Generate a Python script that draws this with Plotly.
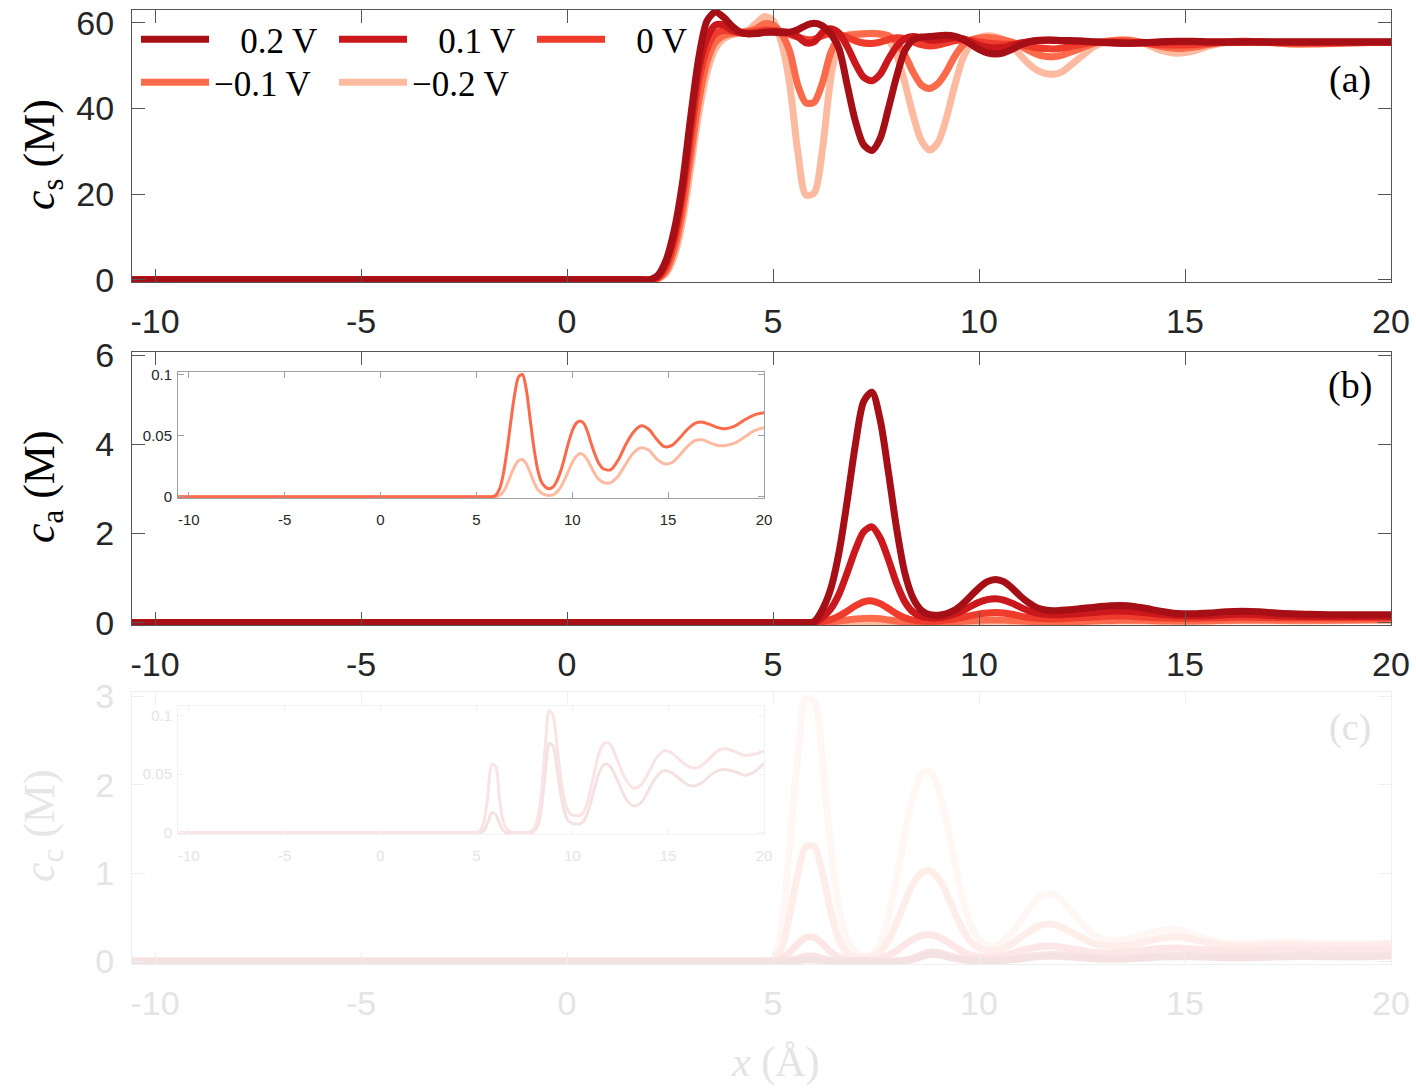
import plotly.graph_objects as go

# ---------------- data ----------------
LABELS = ["\u00a0\u00a0\u00a00.2 V", "\u00a0\u00a0\u00a00.1 V", "\u00a0\u00a0\u00a00 V", "\u22120.1 V", "\u22120.2 V"]
COLORS = ["#a50f15", "#cb181d", "#ef3b2c", "#fb6a4a", "#fcbba1"]
FADED = ["#f4e2e3", "#f9e3e4", "#fde7e6", "#feede9", "#fff7f4"]
X_TICKS = [-10, -5, 0, 5, 10, 15, 20]
X_TICKTEXT = ["-10", "-5", "0", "5", "10", "15", "20"]

# panel (a): solvent concentration c_s (M)
XA = [-10.56, 1.6, 1.8, 2.0, 2.2, 2.4, 2.6, 2.8, 3.0, 3.2, 3.4, 3.6, 3.8, 4.0, 4.2, 4.4, 4.6, 4.8,
      5.0, 5.2, 5.4, 5.6, 5.8, 6.0, 6.2, 6.4, 6.6, 6.8, 7.0, 7.2, 7.4, 7.6, 7.8, 8.0, 8.2, 8.4, 8.6,
      8.8, 9.0, 9.2, 9.4, 9.6, 9.8, 10.0, 10.2, 10.4, 10.6, 10.8, 11.0, 11.2, 11.4, 11.6, 11.8, 12.0,
      12.4, 12.8, 13.2, 13.6, 14.0, 14.4, 14.8, 15.2, 15.6, 16.0, 16.4, 16.8, 17.2, 17.6, 18.0,
      18.5, 19.0, 19.5, 20.0]
CS_P02 = [0, 0, 0, 0, 1.0, 4.5, 11.5, 22.5, 38.0, 52.0, 60.5, 62.5, 61.3, 59.3, 57.9, 57.4, 57.5, 57.8,
          57.8, 57.7, 57.8, 58.4, 59.4, 59.9, 59.3, 57.5, 54.0, 45.5, 37.0, 31.5, 30.2, 33.0, 40.0, 47.5,
          53.5, 56.0, 56.7, 56.8, 57.0, 57.1, 56.9, 56.2, 55.0, 53.8, 53.0, 52.7, 53.0, 53.8, 54.8, 55.5,
          55.9, 56.0, 56.0, 55.9, 55.8, 55.6, 55.4, 55.3, 55.4, 55.6, 55.7, 55.7, 55.6, 55.6, 55.6, 55.6,
          55.6, 55.6, 55.6, 55.6, 55.6, 55.6, 55.6]
CS_P01 = [0, 0, 0, 0, 0.8, 4.0, 10.5, 21.0, 36.0, 49.5, 56.5, 59.5, 59.5, 58.3, 57.7, 57.5, 57.6, 57.8,
          58.0, 58.0, 57.7, 56.8, 55.3, 55.6, 57.8, 58.6, 57.6, 54.5, 50.5, 47.3, 46.5, 48.0, 51.5, 54.5,
          56.3, 56.8, 56.5, 56.0, 56.0, 56.3, 56.5, 56.3, 55.6, 54.8, 54.3, 54.1, 54.3, 54.8, 55.3, 55.6,
          55.8, 55.9, 55.9, 55.8, 55.7, 55.5, 55.3, 55.2, 55.3, 55.5, 55.6, 55.6, 55.5, 55.5, 55.5, 55.5,
          55.5, 55.5, 55.5, 55.5, 55.5, 55.5, 55.5]
CS_0 = [0, 0, 0, 0, 0.5, 3.0, 9.0, 19.0, 33.0, 46.5, 54.0, 57.5, 58.2, 58.0, 57.8, 57.8, 58.0, 58.3,
        58.2, 57.8, 57.3, 56.7, 56.1, 56.2, 57.0, 57.5, 57.3, 56.6, 55.8, 55.3, 55.2, 55.5, 56.1, 56.5,
        56.3, 55.6, 54.9, 54.6, 54.8, 55.3, 55.8, 56.0, 55.9, 55.6, 55.3, 55.1, 55.0, 55.0, 54.9, 54.6,
        54.2, 54.0, 53.9, 54.1, 54.8, 55.4, 55.6, 55.6, 55.3, 54.9, 54.8, 54.9, 55.2, 55.4, 55.5, 55.5,
        55.4, 55.3, 55.3, 55.3, 55.4, 55.4, 55.5]
CS_M01 = [0, 0, 0, 0, 0.3, 2.0, 7.0, 16.0, 29.0, 42.0, 51.0, 55.5, 57.0, 57.5, 57.7, 58.0, 58.7, 59.8,
          59.5, 57.5, 53.5, 45.5, 41.3, 41.5, 46.0, 53.0, 56.5, 57.0, 57.3, 57.4, 57.5, 57.4, 57.0, 55.5,
          52.5, 48.5, 45.5, 44.7, 45.8, 48.5, 52.0, 54.7, 56.0, 56.5, 56.6, 56.4, 56.0, 55.5, 54.6, 53.6,
          52.7, 52.2, 52.1, 52.4, 53.8, 55.2, 55.8, 55.9, 55.4, 54.5, 54.0, 54.3, 55.0, 55.5, 55.7, 55.6,
          55.3, 55.1, 55.1, 55.2, 55.3, 55.4, 55.4]
CS_M02 = [0, 0, 0, 0, 0.2, 1.5, 5.5, 13.5, 26.0, 39.0, 48.5, 54.0, 56.3, 57.2, 57.6, 58.3, 60.0, 61.5,
          60.5, 55.5, 46.0, 30.0, 19.8, 20.3, 30.5, 47.0, 55.5, 57.2, 57.4, 57.5, 57.6, 57.4, 56.0, 52.5,
          46.0, 38.5, 32.5, 30.3, 32.0, 37.5, 45.0, 51.5, 55.0, 56.5, 57.0, 56.8, 56.0, 54.5, 52.5, 50.5,
          49.0, 48.2, 48.0, 48.5, 51.5, 54.5, 55.8, 56.1, 55.2, 53.6, 52.9, 53.4, 54.6, 55.4, 55.7, 55.6,
          55.3, 55.0, 55.0, 55.1, 55.3, 55.4, 55.5]

# panel (b): anion concentration c_a (M)
XB = [-10.56, 5.6, 5.8, 6.0, 6.2, 6.4, 6.6, 6.8, 7.0, 7.2, 7.4, 7.6, 7.8, 8.0, 8.2, 8.4, 8.6, 8.8, 9.0,
      9.2, 9.4, 9.6, 9.8, 10.0, 10.2, 10.4, 10.6, 10.8, 11.0, 11.2, 11.4, 11.6, 11.8, 12.0, 12.4, 12.8,
      13.2, 13.6, 14.0, 14.4, 14.8, 15.2, 15.6, 16.0, 16.4, 16.8, 17.2, 17.6, 18.0, 18.5, 19.0, 19.5, 20.0]
CA_P02 = [0, 0, 0, 0.03, 0.3, 0.76, 1.57, 2.73, 4.0, 4.96, 5.17, 4.55, 3.38, 2.11, 1.11, 0.55, 0.28, 0.18,
          0.17, 0.2, 0.28, 0.42, 0.6, 0.78, 0.92, 0.97, 0.92, 0.78, 0.6, 0.45, 0.34, 0.29, 0.27, 0.28, 0.31,
          0.35, 0.38, 0.38, 0.33, 0.26, 0.21, 0.2, 0.22, 0.25, 0.26, 0.25, 0.22, 0.2, 0.19, 0.18, 0.18,
          0.18, 0.18]
CA_P01 = [0, 0, 0, 0.01, 0.12, 0.31, 0.64, 1.12, 1.64, 2.04, 2.15, 1.9, 1.42, 0.88, 0.47, 0.24, 0.14, 0.11,
          0.11, 0.14, 0.19, 0.27, 0.37, 0.46, 0.52, 0.54, 0.51, 0.44, 0.35, 0.27, 0.22, 0.19, 0.18, 0.18,
          0.2, 0.23, 0.26, 0.26, 0.23, 0.19, 0.16, 0.15, 0.16, 0.18, 0.19, 0.18, 0.16, 0.15, 0.14, 0.14,
          0.14, 0.14, 0.14]
CA_0 = [0, 0, 0, 0, 0.03, 0.07, 0.15, 0.26, 0.38, 0.47, 0.49, 0.43, 0.32, 0.2, 0.11, 0.06, 0.04, 0.035,
        0.04, 0.06, 0.08, 0.12, 0.16, 0.2, 0.22, 0.23, 0.22, 0.19, 0.15, 0.12, 0.1, 0.09, 0.085, 0.09, 0.11,
        0.13, 0.15, 0.15, 0.13, 0.11, 0.1, 0.1, 0.11, 0.12, 0.13, 0.12, 0.115, 0.11, 0.11, 0.11, 0.11,
        0.11, 0.11]
CA_M01 = [0, 0, 0, 0.001, 0.006, 0.018, 0.038, 0.062, 0.084, 0.098, 0.1, 0.088, 0.064, 0.04, 0.022, 0.012,
          0.008, 0.0065, 0.008, 0.013, 0.021, 0.032, 0.044, 0.054, 0.06, 0.062, 0.06, 0.053, 0.043, 0.034,
          0.027, 0.023, 0.022, 0.022, 0.03, 0.043, 0.053, 0.058, 0.055, 0.047, 0.041, 0.042, 0.048, 0.055,
          0.06, 0.061, 0.059, 0.0565, 0.0556, 0.058, 0.063, 0.067, 0.0687]
CA_M02 = [0, 0, 0, 0, 0.001, 0.004, 0.01, 0.018, 0.025, 0.0295, 0.0305, 0.027, 0.02, 0.012, 0.006, 0.003,
          0.0015, 0.001, 0.0015, 0.004, 0.008, 0.014, 0.021, 0.028, 0.033, 0.0354, 0.034, 0.03, 0.024, 0.018,
          0.014, 0.012, 0.011, 0.0115, 0.017, 0.027, 0.036, 0.04, 0.038, 0.031, 0.027, 0.028, 0.034, 0.041,
          0.046, 0.0465, 0.044, 0.042, 0.042, 0.044, 0.049, 0.054, 0.0564]

# panel (c): cation concentration c_c (M)
XC = [-10.56, 4.6, 4.8, 5.0, 5.2, 5.4, 5.6, 5.8, 6.0, 6.2, 6.4, 6.6, 6.8, 7.0, 7.2, 7.4, 7.6, 7.8, 8.0,
      8.2, 8.4, 8.6, 8.8, 9.0, 9.2, 9.4, 9.6, 9.8, 10.0, 10.2, 10.4, 10.6, 10.8, 11.0, 11.2, 11.4, 11.6,
      11.8, 12.0, 12.4, 12.8, 13.2, 13.6, 14.0, 14.4, 14.8, 15.2, 15.6, 16.0, 16.4, 16.8, 17.2, 17.6,
      18.0, 18.5, 19.0, 19.5, 20.0]
CC_P02 = [0, 0, 0, 0, 0, 0.002, 0.009, 0.017, 0.016, 0.008, 0.002, 0, 0, 0, 0, 0, 0, 0, 0.001, 0.006,
          0.022, 0.052, 0.076, 0.074, 0.055, 0.033, 0.018, 0.01, 0.008, 0.0075, 0.0076, 0.01, 0.017, 0.028,
          0.04, 0.051, 0.057, 0.0585, 0.056, 0.043, 0.029, 0.023, 0.026, 0.037, 0.048, 0.053, 0.051, 0.046,
          0.041, 0.04, 0.043, 0.049, 0.053, 0.054, 0.052, 0.049, 0.052, 0.0593]
CC_P01 = [0, 0, 0, 0, 0.002, 0.01, 0.032, 0.058, 0.057, 0.03, 0.01, 0.003, 0.001, 0, 0, 0, 0, 0.001,
          0.003, 0.012, 0.035, 0.075, 0.104, 0.1, 0.075, 0.047, 0.028, 0.018, 0.015, 0.0145, 0.0147, 0.018,
          0.027, 0.04, 0.055, 0.068, 0.075, 0.077, 0.075, 0.06, 0.045, 0.038, 0.041, 0.052, 0.064, 0.07,
          0.068, 0.062, 0.057, 0.055, 0.058, 0.064, 0.07, 0.0715, 0.069, 0.066, 0.067, 0.0698]
CC_0 = [0, 0, 0, 0, 0.03, 0.1, 0.2, 0.27, 0.27, 0.2, 0.11, 0.05, 0.02, 0.01, 0.01, 0.015, 0.03, 0.07,
        0.12, 0.19, 0.25, 0.29, 0.3, 0.28, 0.23, 0.17, 0.11, 0.07, 0.05, 0.045, 0.05, 0.065, 0.09, 0.12,
        0.14, 0.16, 0.17, 0.17, 0.16, 0.13, 0.1, 0.095, 0.105, 0.125, 0.145, 0.15, 0.14, 0.13, 0.12, 0.12,
        0.125, 0.13, 0.13, 0.13, 0.13, 0.13, 0.135, 0.14]
CC_M01 = [0, 0, 0, 0.01, 0.13, 0.52, 0.98, 1.3, 1.3, 1.0, 0.57, 0.25, 0.1, 0.05, 0.04, 0.05, 0.11, 0.24,
          0.44, 0.67, 0.88, 1.0, 1.03, 0.95, 0.78, 0.56, 0.37, 0.22, 0.15, 0.12, 0.12, 0.15, 0.2, 0.27,
          0.33, 0.39, 0.42, 0.42, 0.39, 0.29, 0.2, 0.17, 0.18, 0.22, 0.26, 0.28, 0.25, 0.21, 0.18, 0.17,
          0.18, 0.19, 0.19, 0.185, 0.18, 0.18, 0.185, 0.19]
CC_M02 = [0, 0, 0, 0.02, 0.35, 1.3, 2.3, 2.98, 2.95, 2.25, 1.3, 0.6, 0.25, 0.1, 0.06, 0.08, 0.2, 0.5,
          0.95, 1.45, 1.88, 2.12, 2.15, 1.98, 1.6, 1.15, 0.72, 0.42, 0.25, 0.18, 0.18, 0.23, 0.33, 0.45,
          0.59, 0.7, 0.76, 0.76, 0.7, 0.48, 0.3, 0.24, 0.25, 0.3, 0.35, 0.36, 0.31, 0.25, 0.21, 0.2, 0.21,
          0.22, 0.22, 0.21, 0.2, 0.2, 0.2, 0.21]

CS = [CS_P02, CS_P01, CS_0, CS_M01, CS_M02]
CA = [CA_P02, CA_P01, CA_0, CA_M01, CA_M02]
CC = [CC_P02, CC_P01, CC_0, CC_M01, CC_M02]

# ---------------- layout helpers ----------------
W, H = 1416, 1088
def fx(p):
    return p / W
def fy(p):
    return 1 - p / H

SANS = "Liberation Sans, Arial, sans-serif"
SERIF = "Liberation Serif, Times New Roman, serif"
FADE_TXT = "#e4e4e4"
FADE_LINE = "#efefef"
SPL = dict(shape="spline", smoothing=0.8)

fig = go.Figure()

# draw order: -0.2 V first, 0.2 V last (on top)
order = [4, 3, 2, 1, 0]
for i in order:
    fig.add_trace(go.Scatter(
        x=XA, y=CS[i], mode="lines", name=LABELS[i],
        line=dict(color=COLORS[i], width=7, **SPL),
        legend="legend" if i < 3 else "legend2", legendrank=i + 1,
        xaxis="x", yaxis="y"))
for i in order:
    fig.add_trace(go.Scatter(
        x=XB, y=CA[i], mode="lines", showlegend=False,
        line=dict(color=COLORS[i], width=7, **SPL), xaxis="x2", yaxis="y2"))
for i in order:
    fig.add_trace(go.Scatter(
        x=XC, y=CC[i], mode="lines", showlegend=False,
        line=dict(color=FADED[i], width=7, **SPL), xaxis="x3", yaxis="y3"))
# insets
for i in [4, 3]:
    fig.add_trace(go.Scatter(
        x=XB, y=CA[i], mode="lines", showlegend=False,
        line=dict(color=COLORS[i], width=3, **SPL), xaxis="x4", yaxis="y4"))
for i in [0, 1]:
    fig.add_trace(go.Scatter(
        x=XC, y=CC[i], mode="lines", showlegend=False,
        line=dict(color=FADED[i], width=3, **SPL), xaxis="x5", yaxis="y5"))


def main_x(domain, anchor, faded=False):
    lc = FADE_LINE if faded else "#555555"
    tc = FADE_TXT if faded else "#262626"
    return dict(domain=domain, anchor=anchor, range=[-10.56, 20], tickvals=X_TICKS,
                ticktext=X_TICKTEXT, automargin=False,
                ticks="inside", ticklen=13, tickcolor=lc, tickwidth=1, mirror="ticks",
                showline=True, linecolor=lc, linewidth=1, showgrid=False, zeroline=False,
                tickfont=dict(family=SANS, size=34, color=tc), ticklabelstandoff=9)


def main_y(domain, anchor, rng, tv, faded=False):
    lc = FADE_LINE if faded else "#555555"
    tc = FADE_TXT if faded else "#262626"
    return dict(domain=domain, anchor=anchor, range=rng, tickvals=tv, automargin=False,
                ticks="inside", ticklen=13, tickcolor=lc, tickwidth=1, mirror="ticks",
                showline=True, linecolor=lc, linewidth=1, showgrid=False, zeroline=False,
                tickfont=dict(family=SANS, size=34, color=tc), ticklabelstandoff=10)


def inset_x(domain, anchor, faded=False):
    lc = "#f2f2f2" if faded else "#a0a0a0"
    tc = FADE_TXT if faded else "#262626"
    return dict(domain=domain, anchor=anchor, range=[-10.56, 20], tickvals=X_TICKS,
                ticktext=X_TICKTEXT, automargin=False,
                ticks="inside", ticklen=6, tickcolor=lc, mirror="ticks", showline=True,
                linecolor=lc, linewidth=1, showgrid=False, zeroline=False,
                tickfont=dict(family=SANS, size=15, color=tc), ticklabelstandoff=8)


def inset_y(domain, anchor, rng, faded=False):
    lc = "#f2f2f2" if faded else "#a0a0a0"
    tc = FADE_TXT if faded else "#262626"
    return dict(domain=domain, anchor=anchor, range=rng, tickvals=[0, 0.05, 0.1],
                ticktext=["0", "0.05", "0.1"], automargin=False,
                ticks="inside", ticklen=6, tickcolor=lc, mirror="ticks", showline=True,
                linecolor=lc, linewidth=1, showgrid=False, zeroline=False,
                tickfont=dict(family=SANS, size=15, color=tc), ticklabelstandoff=2)


XD = [fx(132), fx(1391)]
XDI = [fx(178), fx(764)]
LEG = dict(xanchor="left", yanchor="top", orientation="h",
           font=dict(family=SERIF, size=35, color="black"), bgcolor="rgba(0,0,0,0)",
           itemwidth=68, entrywidth=115, traceorder="normal")

fig.update_layout(
    width=W, height=H, margin=dict(l=0, r=0, t=0, b=0, autoexpand=False),
    paper_bgcolor="white", plot_bgcolor="white",
    xaxis=main_x(XD, "y"),
    yaxis=main_y([fy(282), fy(10)], "x", [-0.5, 63], [0, 20, 40, 60]),
    xaxis2=main_x(XD, "y2"),
    yaxis2=main_y([fy(625), fy(352)], "x2", [-0.05, 6.07], [0, 2, 4, 6]),
    xaxis3=main_x(XD, "y3", faded=True),
    yaxis3=main_y([fy(964), fy(692)], "x3", [-0.03, 3.05], [0, 1, 2, 3], faded=True),
    xaxis4=inset_x(XDI, "y4"),
    yaxis4=inset_y([fy(498), fy(372)], "x4", [-0.001, 0.102]),
    xaxis5=inset_x(XDI, "y5", faded=True),
    yaxis5=inset_y([fy(834), fy(706)], "x5", [-0.001, 0.108], faded=True),
    legend=dict(x=fx(136), y=fy(10), **LEG),
    legend2=dict(x=fx(136), y=fy(53), **LEG),
    showlegend=True,
)

ann = [
    dict(text="(a)", x=fx(1350), y=fy(80), color="black"),
    dict(text="(b)", x=fx(1350), y=fy(385), color="black"),
    dict(text="(c)", x=fx(1350), y=fy(727), color="#e2e2e2"),
]
for a in ann:
    fig.add_annotation(text=a["text"], x=a["x"], y=a["y"], xref="paper", yref="paper",
                       showarrow=False, xanchor="center", yanchor="middle",
                       font=dict(family=SERIF, size=38, color=a["color"]))

ytitles = [
    ("<i>c</i><sub>s</sub> (M)", fy(155), "black"),
    ("<i>c</i><sub>a</sub> (M)", fy(487), "black"),
    ("<i>c</i><sub>c</sub> (M)", fy(826), "#e6e6e6"),
]
for t, yy, col in ytitles:
    fig.add_annotation(text=t, x=fx(42), y=yy, xref="paper", yref="paper", showarrow=False,
                       textangle=-90, xanchor="center", yanchor="middle",
                       font=dict(family=SERIF, size=44, color=col))

fig.add_annotation(text="<i>x</i> (\u00c5)", x=fx(775), y=fy(1062), xref="paper", yref="paper",
                   showarrow=False, xanchor="center", yanchor="middle",
                   font=dict(family=SERIF, size=42, color="#e4e4e4"))

fig.write_html("out.html")
